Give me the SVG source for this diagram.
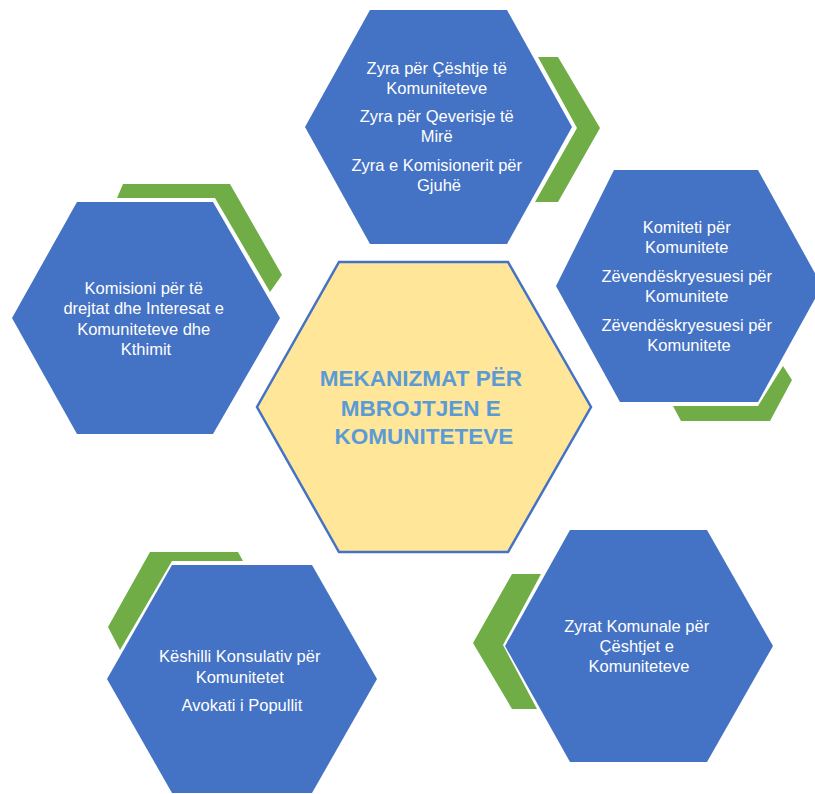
<svg xmlns="http://www.w3.org/2000/svg" width="815" height="794" viewBox="0 0 815 794">
  <style>
    .hex { fill: #4472C4; }
    .core { fill: #FFE699; stroke: #4472C4; stroke-width: 2.5; stroke-linejoin: miter; }
    .chevron { fill: #70AD47; }
    .label { font-family: "Liberation Sans", Arial, sans-serif; font-size: 16.5px; fill: #FFFFFF; text-anchor: middle; }
    .title { font-family: "Liberation Sans", Arial, sans-serif; font-size: 22.5px; font-weight: bold; fill: #5B9BD5; text-anchor: middle; }
  </style>
  <rect width="815" height="794" fill="#FFFFFF"/>

  <!-- green chevrons linking the outer hexagons -->
  <g id="connectors">
    <polygon class="chevron" points="538,57 558,57 600,128 558,202 535,202 577,128"/>
    <polygon class="chevron" points="783,366 792,380 770,421 681,421 673,406 758,406"/>
    <polygon class="chevron" points="512,574 541,574 503,645 537,709 512,709 473,643"/>
    <polygon class="chevron" points="150,552 238,552 243,561 172,561 120,650 108,627"/>
    <polygon class="chevron" points="123,184 230,184 282,275 270,292 215,198 117,198"/>
  </g>

  <g id="node-center">
    <polygon class="core" points="339,262 508,262 591,407 508,552 339,552 257,407"/>
    <text class="title">
      <tspan x="424" y="386">MEKANIZMAT PËR</tspan>
      <tspan x="424" y="415.5">MBROJTJEN E</tspan>
      <tspan x="424" y="444">KOMUNITETEVE</tspan>
    </text>
  </g>

  <g id="node-top">
    <polygon class="hex" points="370,10 507,10 572,127 507,244 370,244 305,127"/>
    <text class="label">
      <tspan x="439" y="74">Zyra për Çështje të</tspan>
      <tspan x="439" y="94">Komuniteteve</tspan>
      <tspan x="439" y="121.5">Zyra për Qeverisje të</tspan>
      <tspan x="439" y="141.5">Mirë</tspan>
      <tspan x="439" y="170.5">Zyra e Komisionerit për</tspan>
      <tspan x="439" y="190.5">Gjuhë</tspan>
    </text>
  </g>

  <g id="node-right">
    <polygon class="hex" points="614,170 758,170 822,286 758,402 620,402 556,286"/>
    <text class="label">
      <tspan x="689" y="232.5">Komiteti për</tspan>
      <tspan x="689" y="252.5">Komunitete</tspan>
      <tspan x="689" y="282">Zëvendëskryesuesi për</tspan>
      <tspan x="689" y="302">Komunitete</tspan>
      <tspan x="689" y="331">Zëvendëskryesuesi për</tspan>
      <tspan x="689" y="351">Komunitete</tspan>
    </text>
  </g>

  <g id="node-bottom-right">
    <polygon class="hex" points="570,530 707,530 773,646 707,762 570,762 505,646"/>
    <text class="label">
      <tspan x="639" y="631.5">Zyrat Komunale për</tspan>
      <tspan x="639" y="651.5">Çështjet e</tspan>
      <tspan x="639" y="671.5">Komuniteteve</tspan>
    </text>
  </g>

  <g id="node-bottom-left">
    <polygon class="hex" points="172,565 312,565 377,679 312,793 172,793 107,679"/>
    <text class="label">
      <tspan x="242" y="662">Këshilli Konsulativ për</tspan>
      <tspan x="242" y="682.5">Komunitetet</tspan>
      <tspan x="242" y="711">Avokati i Popullit</tspan>
    </text>
  </g>

  <g id="node-left">
    <polygon class="hex" points="77,202 213,202 280,318 213,434 77,434 12,318"/>
    <text class="label">
      <tspan x="146" y="293.5">Komisioni për të</tspan>
      <tspan x="146" y="314">drejtat dhe Interesat e</tspan>
      <tspan x="146" y="334.5">Komuniteteve dhe</tspan>
      <tspan x="146" y="355">Kthimit</tspan>
    </text>
  </g>
</svg>
